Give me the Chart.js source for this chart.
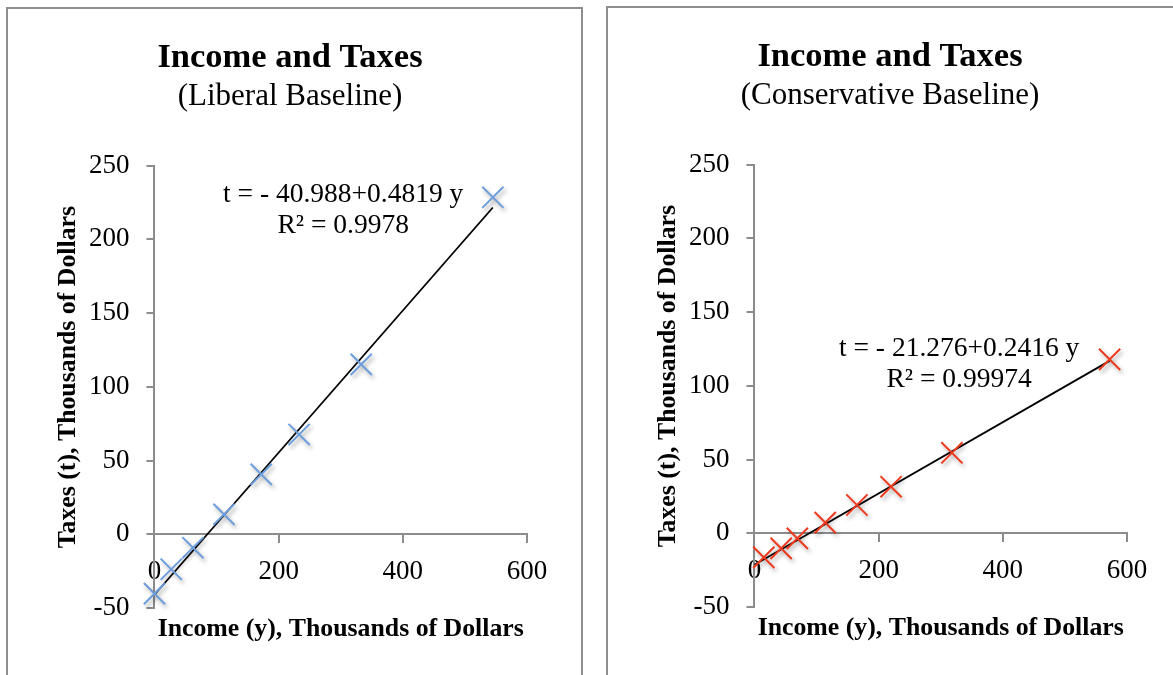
<!DOCTYPE html>
<html>
<head>
<meta charset="utf-8">
<script src="https://cdn.jsdelivr.net/npm/chart.js@4.4.0/dist/chart.umd.min.js"></script>
<style>
body{
    margin:0;
    background:#ffffff;
    width:1173px;
    height:675px;
    overflow:hidden;
    position:relative;
}
.panel{
    position:absolute;
    border:2px solid #8e8e8e;
    background:#ffffff;
}
#leftPanel{ left:6px; top:7px; width:573px; height:690px; }
#rightPanel{ left:606px; top:6px; width:573px; height:690px; }
canvas{ display:block; }
</style>
</head>
<body>

<div class="panel" id="leftPanel">
    <canvas id="liberalChart" width="573" height="670"></canvas>
</div>
<div class="panel" id="rightPanel">
    <canvas id="conservativeChart" width="573" height="670"></canvas>
</div>

<script>

// values (thousands of dollars)
const liberalIncome = [0, 27, 62, 112, 172, 233, 333, 545]
const liberalTaxes = [-40.2, -23.7, -9.1, 13.5, 40.6, 67.7, 115.2, 228.5]

const conservativeIncome = [15, 43, 69, 114, 165, 220, 318, 572]
const conservativeTaxes = [-16.3, -10.2, -3.4, 7.2, 19.2, 31.6, 54.6, 117.9]

// trendline end points as drawn
const liberalTrendIncome = [0, 545]
const liberalTrendTaxes = [-41.0, 221.6]

const conservativeTrendIncome = [0, 572]
const conservativeTrendTaxes = [-21.3, 116.9]

const liberalEquation = ["t = - 40.988+0.4819 y", "R\u00b2 = 0.9978"]
const conservativeEquation = ["t = - 21.276+0.2416 y", "R\u00b2 = 0.99974"]

const xTicks = [0, 200, 400, 600]
const yTicks = [-50, 0, 50, 100, 150, 200, 250]

const FONT = "'Liberation Serif', 'Times New Roman', serif"

function toPoints(xs, ys){
    return xs.map(function(x, i){
        return { x: x, y: ys[i] }
    })
}

// soft shadow under the cross markers
const markerShadow = {
    id: "markerShadow",
    beforeDatasetDraw(chart, args){
        if(args.index !== 0) return
        const ctx = chart.ctx
        ctx.save()
        ctx.shadowColor = "rgba(0,0,0,0.35)"
        ctx.shadowBlur = 4
        ctx.shadowOffsetX = 2
        ctx.shadowOffsetY = 3
    },
    afterDatasetDraw(chart, args){
        if(args.index !== 0) return
        chart.ctx.restore()
    }
}

// regression equation text placed at data coordinates
const equationLabel = {
    id: "equationLabel",
    afterDatasetsDraw(chart, args, opts){
        const ctx = chart.ctx
        const xs = chart.scales.x
        const ys = chart.scales.y
        ctx.save()
        ctx.font = "27.5px " + FONT
        ctx.fillStyle = "#000000"
        ctx.textAlign = "center"
        ctx.textBaseline = "middle"
        opts.lines.forEach(function(line, i){
            ctx.fillText(
                line,
                xs.getPixelForValue(opts.at[i][0]),
                ys.getPixelForValue(opts.at[i][1])
            )
        })
        ctx.restore()
    }
}

function createIncomeChart(
    canvasId,
    subtitle,
    incomes,
    taxes,
    trendIncome,
    trendTaxes,
    color,
    equation,
    equationAt
){

    new Chart(
        document.getElementById(canvasId),
        {
            type:"scatter",

            data:{
                datasets:[
                    {
                        data:toPoints(incomes, taxes),
                        pointStyle:"crossRot",
                        pointRadius:15,
                        pointHoverRadius:15,
                        pointBorderWidth:2,
                        borderColor:color,
                        backgroundColor:color,
                        showLine:false,
                        clip:false
                    },
                    {
                        type:"line",
                        data:toPoints(trendIncome, trendTaxes),
                        borderColor:"#000000",
                        borderWidth:1.8,
                        pointRadius:0,
                        fill:false,
                        clip:false
                    }
                ]
            },

            options:{
                responsive:false,
                devicePixelRatio:1,
                animation:false,
                layout:{
                    padding:{ left:45, right:54, top:0, bottom:30 }
                },
                plugins:{
                    legend:{ display:false },
                    tooltip:{ enabled:false },
                    title:{
                        display:true,
                        text:"Income and Taxes",
                        color:"#000000",
                        font:{ family:FONT, size:34.5, weight:"bold", lineHeight:1.2 },
                        padding:{ top:28, bottom:0 }
                    },
                    subtitle:{
                        display:true,
                        text:subtitle,
                        color:"#000000",
                        font:{ family:FONT, size:31, weight:"normal", lineHeight:1.2 },
                        padding:{ top:0, bottom:50 }
                    },
                    equationLabel:{
                        lines:equation,
                        at:equationAt
                    }
                },
                scales:{
                    x:{
                        type:"linear",
                        position:{ y:0 },
                        min:xTicks[0],
                        max:xTicks[xTicks.length - 1],
                        afterBuildTicks(scale){
                            scale.ticks = xTicks.map(function(v){ return { value:v } })
                        },
                        grid:{
                            drawOnChartArea:false,
                            drawTicks:true,
                            tickLength:8,
                            color:"#8c8c8c",
                            lineWidth:2
                        },
                        border:{ color:"#8c8c8c", width:2 },
                        ticks:{
                            color:"#000000",
                            padding:13,
                            maxRotation:0,
                            font:{ family:FONT, size:27 }
                        }
                    },
                    x2:{
                        type:"linear",
                        position:"bottom",
                        display:true,
                        grid:{ display:false, drawTicks:false },
                        border:{ display:false },
                        ticks:{ display:false },
                        title:{
                            display:true,
                            text:"Income (y), Thousands of Dollars",
                            color:"#000000",
                            font:{ family:FONT, size:25.8, weight:"bold" },
                            padding:{ top:6, bottom:4 }
                        }
                    },
                    y:{
                        type:"linear",
                        position:"left",
                        min:yTicks[0],
                        max:yTicks[yTicks.length - 1],
                        afterBuildTicks(scale){
                            scale.ticks = yTicks.map(function(v){ return { value:v } })
                        },
                        grid:{
                            drawOnChartArea:false,
                            drawTicks:true,
                            tickLength:8,
                            color:"#8c8c8c",
                            lineWidth:2
                        },
                        border:{ color:"#8c8c8c", width:2 },
                        ticks:{
                            color:"#000000",
                            padding:17,
                            font:{ family:FONT, size:27 }
                        },
                        title:{
                            display:true,
                            text:"   Taxes (t), Thousands of Dollars",
                            color:"#000000",
                            font:{ family:FONT, size:25.8, weight:"bold" },
                            padding:{ top:0, bottom:-12 }
                        }
                    }
                }
            },

            plugins:[ markerShadow, equationLabel ]
        }
    )
}

createIncomeChart(
    "liberalChart",
    "(Liberal Baseline)",
    liberalIncome,
    liberalTaxes,
    liberalTrendIncome,
    liberalTrendTaxes,
    "#6d9edb",
    liberalEquation,
    [[304, 230], [304, 209]]
)

createIncomeChart(
    "conservativeChart",
    "(Conservative Baseline)",
    conservativeIncome,
    conservativeTaxes,
    conservativeTrendIncome,
    conservativeTrendTaxes,
    "#ee3a1f",
    conservativeEquation,
    [[329.6, 125.3], [329.6, 103.9]]
)

</script>
</body>
</html>
